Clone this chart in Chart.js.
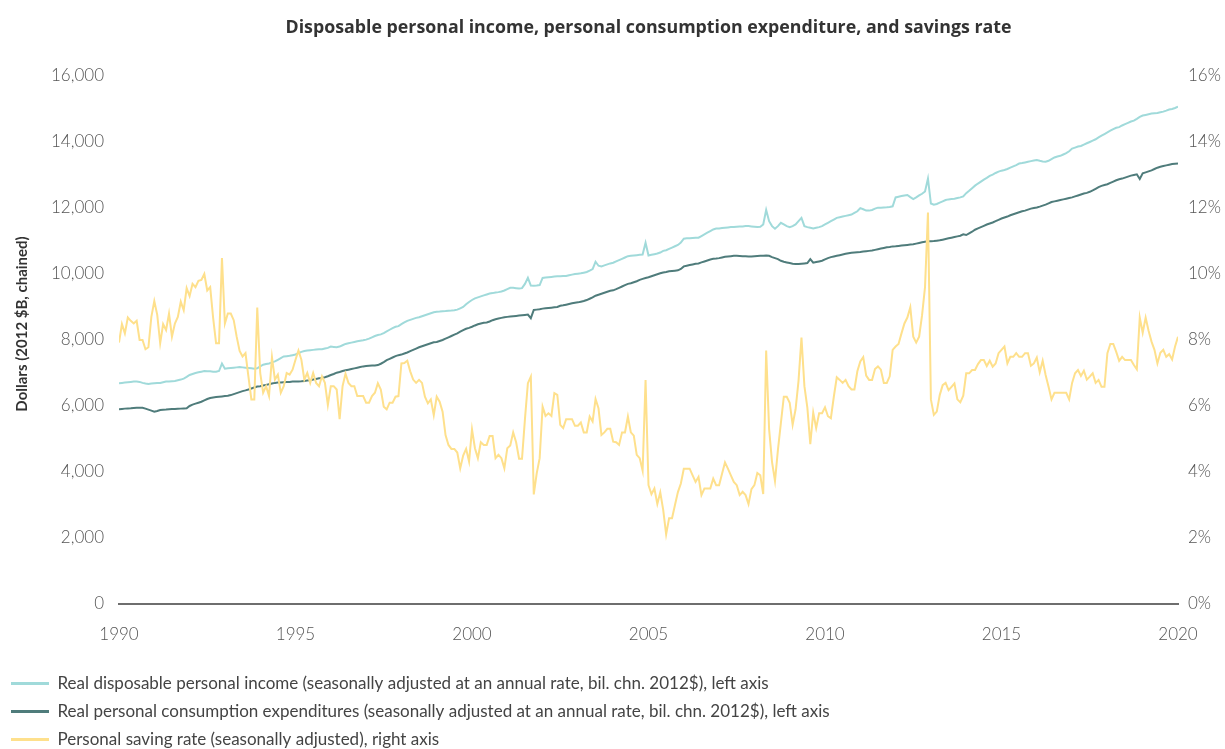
<!DOCTYPE html>
<html>
<head>
<meta charset="utf-8">
<script src="https://cdn.jsdelivr.net/npm/chart.js@4.4.1/dist/chart.umd.min.js"></script>
<style>
  html, body { margin: 0; padding: 0; background: #fff; }
  #wrap { width: 1225px; height: 749px; }
</style>
</head>
<body>
<div id="wrap"><canvas id="chart" width="1225" height="749"></canvas></div>
<script>
// monthly series, Jan 1990 .. Jan 2020
const startYear = 1990;
const yearTicks = [1990, 1995, 2000, 2005, 2010, 2015, 2020];

const seriesNames = [
  'Real disposable personal income (seasonally adjusted at an annual rate, bil. chn. 2012$), left axis',
  'Real personal consumption expenditures (seasonally adjusted at an annual rate, bil. chn. 2012$), left axis',
  'Personal saving rate (seasonally adjusted), right axis'
];
const leftAxisTitle = 'Dollars (2012 $B, chained)';

// real disposable personal income, bil. chained 2012$
const income = [
  6690, 6700, 6710, 6720, 6730, 6740, 6740, 6730, 6700, 6680, 6670, 6680,
  6690, 6700, 6700, 6720, 6740, 6740, 6750, 6760, 6780, 6800, 6830, 6880,
  6940, 6970, 7000, 7020, 7040, 7060, 7050, 7050, 7040, 7040, 7060, 7285,
  7130, 7140, 7150, 7160, 7170, 7180, 7170, 7160, 7150, 7140, 7130, 7140,
  7200, 7250, 7270, 7290, 7320, 7350, 7400, 7450, 7500, 7510, 7520, 7540,
  7560, 7600, 7640, 7667, 7680, 7690, 7700, 7710, 7720, 7720, 7740, 7760,
  7800, 7790, 7780, 7800, 7840, 7880, 7900, 7920, 7940, 7960, 7975, 7990,
  8010, 8040, 8080, 8120, 8150, 8170, 8210, 8260, 8310, 8360, 8400, 8420,
  8480, 8530, 8580, 8610, 8640, 8670, 8690, 8720, 8750, 8780, 8810, 8840,
  8855, 8860, 8870, 8875, 8885, 8890, 8900, 8920, 8960, 9000, 9080, 9150,
  9212, 9260, 9290, 9320, 9350, 9380, 9410, 9420, 9440, 9450, 9470, 9500,
  9540, 9580, 9580, 9570, 9560, 9570, 9700, 9882, 9650, 9640, 9650, 9665,
  9880, 9890, 9900, 9910, 9920, 9930, 9930, 9935, 9940, 9960, 9980, 10000,
  10010, 10020, 10040, 10060, 10100, 10150, 10370, 10250, 10230, 10260, 10290, 10320,
  10340, 10380, 10420, 10460, 10500, 10540, 10550, 10560, 10570, 10580, 10590, 10943,
  10560, 10580, 10600, 10620, 10650, 10700, 10720, 10760, 10800, 10840, 10880, 10950,
  11070, 11080, 11080, 11090, 11100, 11100, 11150, 11200, 11250, 11300, 11350, 11375,
  11380, 11390, 11400, 11410, 11420, 11420, 11430, 11440, 11440, 11450, 11450, 11440,
  11430, 11420, 11430, 11500, 11940, 11600, 11450, 11370, 11450, 11550, 11500, 11450,
  11420, 11450, 11500, 11600, 11700, 11450, 11420, 11400, 11380, 11400, 11420, 11450,
  11500, 11550, 11600, 11650, 11700, 11720, 11740, 11760, 11780, 11800, 11850, 11900,
  11995, 11960, 11920, 11920, 11940, 11980, 12010, 12010, 12015, 12020, 12030, 12050,
  12320, 12340, 12360, 12380, 12395, 12330, 12270, 12320, 12380, 12430, 12500, 12891,
  12134, 12100, 12120, 12160, 12200, 12240, 12260, 12270, 12280, 12300, 12320, 12350,
  12450, 12520, 12600, 12676, 12740, 12800, 12860, 12910, 12970, 13010, 13060, 13100,
  13130, 13150, 13180, 13220, 13260, 13300, 13345, 13360, 13380, 13400, 13420, 13440,
  13455, 13430, 13410, 13400, 13430, 13480, 13530, 13560, 13580, 13620, 13660, 13720,
  13800, 13830, 13860, 13880, 13920, 13960, 14000, 14040, 14082, 14140, 14190, 14240,
  14290, 14340, 14390, 14430, 14450, 14500, 14540, 14580, 14620, 14645, 14700, 14760,
  14800, 14820, 14840, 14860, 14870, 14880, 14900, 14920, 14950, 14985, 15000, 15030,
  15070
];

// real personal consumption expenditures, bil. chained 2012$
const consumption = [
  5900, 5910, 5920, 5925, 5930, 5940, 5950, 5950, 5945, 5920, 5890, 5860,
  5824, 5850, 5880, 5885, 5890, 5900, 5905, 5910, 5915, 5920, 5925, 5930,
  6000, 6040, 6070, 6100, 6130, 6170, 6210, 6240, 6258, 6270, 6280, 6290,
  6300, 6310, 6330, 6360, 6390, 6420, 6450, 6473, 6500, 6530, 6560, 6590,
  6600, 6620, 6640, 6660, 6680, 6700, 6710, 6715, 6720, 6725, 6730, 6740,
  6740, 6745, 6750, 6760, 6770, 6780, 6800, 6820, 6840, 6850, 6870, 6900,
  6940, 6970, 7010, 7030, 7060, 7080, 7100, 7120, 7140, 7160, 7180, 7200,
  7210, 7220, 7230, 7230, 7240, 7280, 7330, 7390, 7430, 7470, 7510, 7540,
  7557, 7590, 7620, 7660, 7700, 7740, 7780, 7810, 7840, 7870, 7900, 7930,
  7940, 7970, 8000, 8040, 8080, 8120, 8160, 8200, 8250, 8300, 8340, 8367,
  8400, 8440, 8476, 8500, 8520, 8530, 8560, 8600, 8630, 8650, 8670, 8690,
  8700, 8710, 8720, 8730, 8740, 8750, 8760, 8770, 8660, 8909, 8920, 8930,
  8950, 8960, 8970, 8980, 8990, 9000, 9035, 9050, 9070, 9090, 9110, 9130,
  9140, 9160, 9180, 9210, 9250, 9290, 9342, 9370, 9400, 9430, 9460, 9490,
  9505, 9540, 9580, 9620, 9660, 9700, 9720, 9750, 9780, 9820, 9850, 9880,
  9900, 9930, 9960, 9990, 10020, 10045, 10060, 10080, 10090, 10100, 10110, 10150,
  10230, 10250, 10270, 10290, 10310, 10320, 10350, 10380, 10410, 10440, 10460, 10467,
  10480, 10500, 10520, 10530, 10540, 10550, 10550, 10545, 10540, 10535, 10530, 10530,
  10540, 10545, 10550, 10555, 10560, 10550, 10510, 10480, 10450, 10400, 10370, 10350,
  10330, 10310, 10300, 10300, 10310, 10320, 10330, 10450, 10340, 10360, 10380, 10400,
  10440, 10480, 10510, 10530, 10550, 10570, 10590, 10610, 10630, 10640, 10650, 10660,
  10667, 10680, 10690, 10700, 10710, 10730, 10750, 10770, 10790, 10810, 10820, 10836,
  10840, 10850, 10860, 10870, 10880, 10890, 10900, 10920, 10940, 10960, 10975, 10988,
  10995, 11000, 11010, 11020, 11040, 11060, 11080, 11100, 11120, 11140, 11160, 11200,
  11180, 11230, 11280, 11340, 11380, 11420, 11460, 11500, 11530, 11560, 11600, 11640,
  11680, 11710, 11740, 11780, 11810, 11840, 11870, 11900, 11920, 11950, 11980, 12000,
  12015, 12040, 12070, 12100, 12140, 12180, 12200, 12220, 12240, 12260, 12280, 12300,
  12320, 12350, 12380, 12410, 12440, 12457, 12490, 12530, 12580, 12630, 12670, 12697,
  12720, 12760, 12800, 12840, 12870, 12890, 12920, 12950, 12980, 13000, 13020, 12880,
  13050, 13080, 13110, 13140, 13180, 13220, 13250, 13270, 13290, 13310, 13330, 13340,
  13350
];

// personal saving rate, %
const savingRate = [
  7.92, 8.48, 8.2, 8.68, 8.58, 8.5, 8.58, 8.0, 8.0, 7.72, 7.78, 8.7,
  9.18, 8.76, 7.9, 8.48, 8.3, 8.8, 8.1, 8.5, 8.7, 9.16, 8.9, 9.57,
  9.33, 9.7, 9.6, 9.79, 9.82, 10.0, 9.5, 9.6, 8.67, 7.9, 7.9, 10.48,
  8.5, 8.8, 8.8, 8.6, 8.1, 7.67, 7.5, 7.6, 6.89, 6.2, 6.2, 8.98,
  7.0, 6.4, 6.6, 6.3, 7.48, 6.8, 6.95, 6.4, 6.6, 7.0, 6.95, 7.1,
  7.4, 7.68, 7.4, 6.8, 7.0, 6.7, 7.0, 6.7, 6.6, 6.9, 6.7, 6.03,
  6.6, 6.6, 6.5, 5.6, 6.6, 6.98, 6.7, 6.6, 6.6, 6.3, 6.3, 6.3,
  6.1, 6.1, 6.3, 6.4, 6.69, 6.5, 5.98, 5.9, 6.1, 6.1, 6.28, 6.3,
  7.29, 7.3, 7.37, 7.05, 6.8, 6.7, 6.79, 6.7, 6.28, 6.08, 6.2, 5.72,
  6.28, 6.13, 5.83, 5.12, 4.82, 4.7, 4.7, 4.59, 4.11, 4.5, 4.7, 4.32,
  5.29, 4.72, 4.42, 4.9, 4.82, 4.82, 5.09, 5.09, 4.42, 4.52, 4.42, 4.11,
  4.72, 4.8, 5.2, 4.9, 4.4, 4.4, 5.6, 6.69, 6.89, 3.32, 3.96, 4.42,
  5.98, 5.7, 5.78, 5.7, 6.39, 6.34, 5.43, 5.33, 5.6, 5.6, 5.6, 5.4,
  5.4, 5.5, 5.2, 5.2, 5.68, 5.53, 6.21, 5.93, 5.12, 5.2, 5.31, 5.31,
  4.92, 4.9, 4.82, 5.2, 5.2, 5.68, 5.2, 5.1, 4.52, 4.42, 4.04, 6.79,
  3.6, 3.33, 3.5, 3.03, 3.38, 2.85, 2.11, 2.6, 2.6, 3.0, 3.39, 3.65,
  4.1, 4.1, 4.1, 3.9, 3.7, 3.85, 3.3, 3.5, 3.5, 3.5, 3.8, 3.6,
  3.6, 3.95, 4.29, 4.1, 3.9, 3.7, 3.6, 3.3, 3.4, 3.3, 3.03, 3.48,
  3.6, 3.97, 3.9, 3.33, 7.68, 5.3, 4.3, 3.73, 4.67, 5.48, 6.28, 6.28,
  6.1, 5.43, 5.9, 6.76, 8.07, 6.6, 5.95, 4.84, 5.8, 5.33, 5.78, 5.78,
  5.96, 5.69, 5.63, 6.28, 6.87, 6.79, 6.7, 6.79, 6.6, 6.5, 6.5, 7.05,
  7.35, 7.48, 6.92, 6.79, 6.79, 7.12, 7.2, 7.1, 6.7, 6.7, 6.9, 7.7,
  7.8, 7.88, 8.2, 8.5, 8.68, 8.99, 8.1, 7.92, 8.1, 8.75, 9.6, 11.86,
  6.2, 5.73, 5.83, 6.33, 6.63, 6.7, 6.48, 6.58, 6.68, 6.2, 6.11, 6.31,
  6.99, 6.99, 7.09, 7.09, 7.27, 7.39, 7.39, 7.21, 7.37, 7.19, 7.29, 7.6,
  7.7, 7.8, 7.29, 7.49, 7.49, 7.6, 7.49, 7.49, 7.6, 7.6, 7.22, 7.29,
  7.47, 7.02, 7.37, 6.94, 6.58, 6.2, 6.4, 6.4, 6.4, 6.4, 6.4, 6.2,
  6.7, 6.99, 7.09, 6.91, 7.07, 6.8, 6.89, 6.99, 6.7, 6.79, 6.58, 6.58,
  7.6, 7.88, 7.88, 7.64, 7.37, 7.49, 7.39, 7.39, 7.39, 7.24, 7.11, 8.68,
  8.22, 8.68, 8.28, 7.95, 7.7, 7.29, 7.61, 7.7, 7.49, 7.57, 7.41, 7.8,
  8.1
];

const toPoints = arr => arr.map((v, i) => ({ x: startYear + i / 12, y: v }));

const textColor = '#555';
const fontFamily = 'Lato, "Open Sans", sans-serif';

// left axis title sits a little above the middle of the plot in the original
const axisTitlePlugin = {
  id: 'leftAxisTitle',
  afterDraw(chart) {
    const { ctx, chartArea } = chart;
    ctx.save();
    ctx.translate(22, (chartArea.top + chartArea.bottom) / 2 - 16);
    ctx.rotate(-Math.PI / 2);
    ctx.textAlign = 'center';
    ctx.textBaseline = 'middle';
    ctx.font = 'bold 15px ' + fontFamily;
    ctx.fillStyle = '#333';
    ctx.fillText(leftAxisTitle, 0, 0);
    ctx.restore();
  }
};

new Chart(document.getElementById('chart'), {
  type: 'line',
  data: {
    datasets: [
      {
        label: seriesNames[0],
        data: toPoints(income),
        yAxisID: 'y',
        borderColor: '#a0dada',
        backgroundColor: '#a0dada',
        borderWidth: 2,
        order: 2
      },
      {
        label: seriesNames[1],
        data: toPoints(consumption),
        yAxisID: 'y',
        borderColor: '#4f7c7b',
        backgroundColor: '#4f7c7b',
        borderWidth: 2,
        order: 1
      },
      {
        label: seriesNames[2],
        data: toPoints(savingRate),
        yAxisID: 'y1',
        borderColor: '#fee08c',
        backgroundColor: '#fee08c',
        borderWidth: 2,
        order: 0
      }
    ]
  },
  options: {
    responsive: false,
    animation: false,
    devicePixelRatio: 1,
    layout: { padding: { left: 0, right: 0, top: 0, bottom: -9 } },
    elements: {
      point: { radius: 0 },
      line: { tension: 0 }
    },
    plugins: {
      tooltip: { enabled: false },
      title: {
        display: true,
        fullSize: false,
        text: 'Disposable personal income, personal consumption expenditure, and savings rate',
        color: '#333',
        font: { family: '"Open Sans", Lato, sans-serif', size: 17.8, weight: 'bold' },
        padding: { top: 17, bottom: 37.6 }
      },
      legend: {
        position: 'bottom',
        align: 'start',
        labels: {
          boxWidth: 38,
          boxHeight: 3,
          padding: 11,
          color: '#444',
          font: { family: fontFamily, size: 17 },
          sort: (a, b) => a.datasetIndex - b.datasetIndex,
          generateLabels: chart =>
            Chart.defaults.plugins.legend.labels.generateLabels(chart)
              .map(item => ({ ...item, lineWidth: 0 }))
        }
      }
    },
    scales: {
      x: {
        type: 'linear',
        min: yearTicks[0],
        max: yearTicks[yearTicks.length - 1],
        afterBuildTicks: scale => { scale.ticks = yearTicks.map(v => ({ value: v })); },
        afterFit: scale => { scale.height = 60; },
        grid: { display: false, drawTicks: false },
        border: { display: true, color: '#6e6e6e', width: 2 },
        ticks: {
          color: textColor,
          padding: 20,
          maxRotation: 0,
          font: { family: fontFamily, size: 17, weight: 300 },
          callback: v => String(v)
        }
      },
      y: {
        position: 'left',
        min: 0,
        max: 16000,
        afterFit: scale => { scale.width = 119; },
        grid: { display: false, drawTicks: false },
        border: { display: false },
        ticks: {
          stepSize: 2000,
          color: textColor,
          padding: 15,
          font: { family: fontFamily, size: 17, weight: 300 },
          callback: v => v.toLocaleString('en-US')
        }
      },
      y1: {
        position: 'right',
        min: 0,
        max: 16,
        afterFit: scale => { scale.width = 47; },
        grid: { display: false, drawTicks: false },
        border: { display: false },
        ticks: {
          stepSize: 2,
          color: textColor,
          padding: 10,
          font: { family: fontFamily, size: 17, weight: 300 },
          callback: v => v + '%'
        }
      }
    }
  },
  plugins: [axisTitlePlugin]
});
</script>
</body>
</html>
